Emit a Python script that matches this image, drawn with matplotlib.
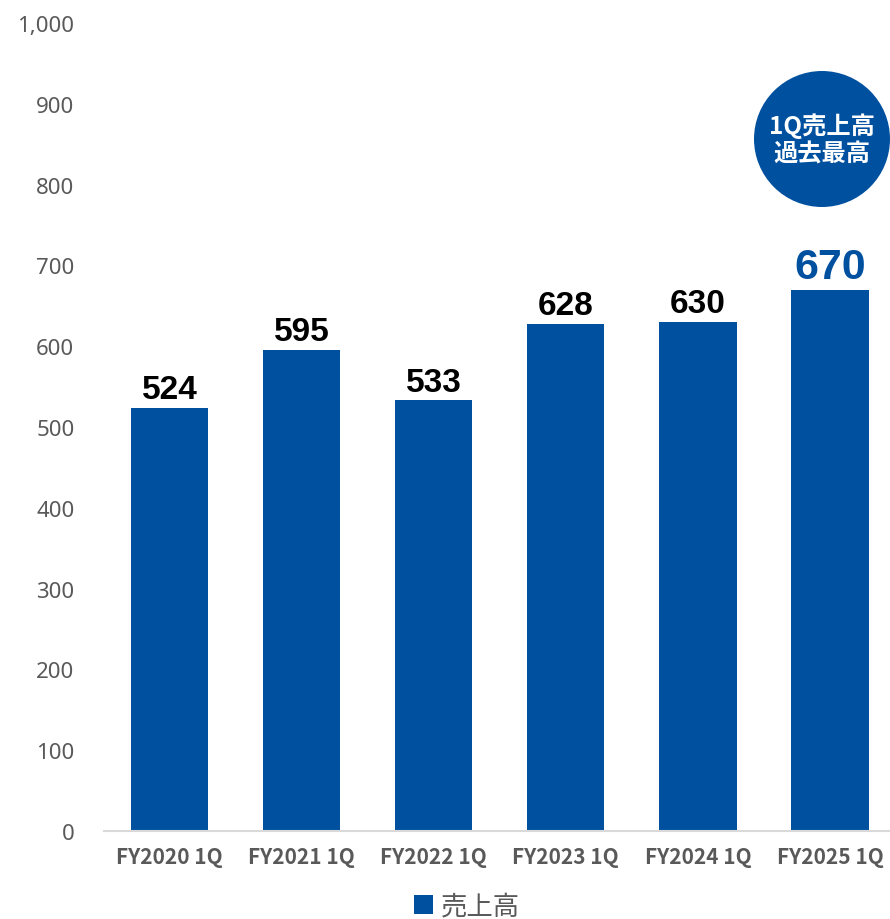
import matplotlib
matplotlib.use("Agg")
import matplotlib.pyplot as plt
from matplotlib.patches import Ellipse, Patch

plt.rcParams['font.family'] = ['Noto Sans CJK JP', 'DejaVu Sans']

categories = ["FY2020 1Q", "FY2021 1Q", "FY2022 1Q", "FY2023 1Q", "FY2024 1Q", "FY2025 1Q"]
values = [524, 595, 533, 628, 630, 670]
yticks = [0, 100, 200, 300, 400, 500, 600, 700, 800, 900, 1000]
series_name = "売上高"
badge_text = "1Q売上高\n過去最高"

BLUE = "#0050A0"
GRAY = "#595959"

fig = plt.figure(figsize=(8.9, 9.2), dpi=100)
ax = fig.add_axes([103.5 / 890, 0.0957, (896 - 103.5) / 890, 0.8782])

x = list(range(len(categories)))
ax.bar(x, values, width=0.585, color=BLUE, zorder=2)
ax.set_xlim(-0.5, 5.5)
ax.set_ylim(0, 1000)
ax.set_yticks(yticks)
ax.set_yticklabels([f"{v:,}" for v in yticks], color=GRAY, fontsize=16,
                   family=['Noto Sans', 'DejaVu Sans'])
ax.set_xticks(x)
ax.set_xticklabels(categories, color=GRAY, fontsize=15, fontweight='bold',
                   family=['Noto Sans CJK JP', 'DejaVu Sans'])
ax.tick_params(axis='y', length=0, pad=21)
ax.tick_params(axis='x', length=0, pad=11)
for s in ['top', 'right', 'left']:
    ax.spines[s].set_visible(False)
ax.spines['bottom'].set_color('#d9d9d9')
ax.spines['bottom'].set_linewidth(1.5)

for i, v in enumerate(values):
    last = (i == len(values) - 1)
    ax.annotate(f"{v}", (i, v), xytext=(0, 2), textcoords='offset points',
                ha='center', va='bottom',
                fontsize=31 if last else 24, fontweight='bold',
                color=BLUE if last else 'black',
                family=['Liberation Sans', 'DejaVu Sans'])

# badge
cx, cy, r = 822 / 890, 1 - 140 / 920, 68
fig.add_artist(Ellipse((cx, cy), 2 * r / 890, 2 * r / 920, transform=fig.transFigure,
                       facecolor=BLUE, edgecolor='none'))
fig.text(cx, cy, badge_text, ha='center', va='center', color='white', fontsize=17.5,
         fontweight='bold', linespacing=1.15)

# legend
fig.legend(handles=[Patch(facecolor=BLUE, label=series_name)], loc='center',
           bbox_to_anchor=(467 / 890, 1 - 907 / 920), frameon=False,
           prop={'size': 19}, labelcolor=GRAY, handlelength=0.7, handleheight=0.7,
           handletextpad=0.3)

fig.savefig("out.png", dpi=100)
